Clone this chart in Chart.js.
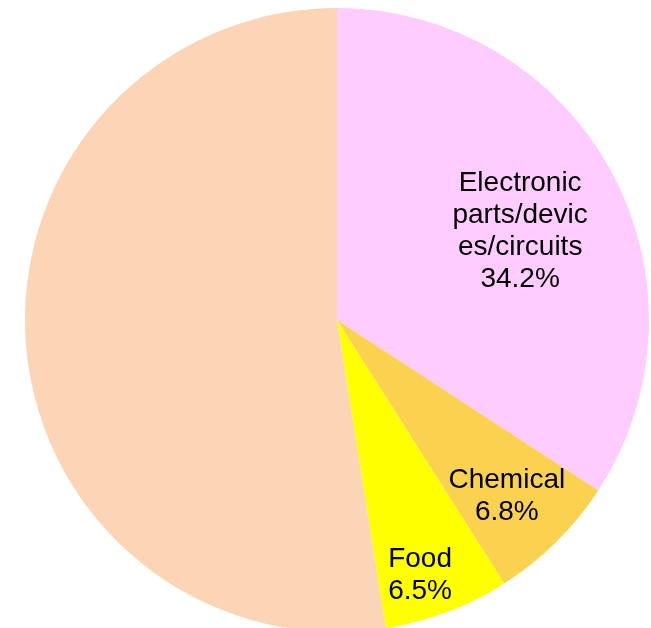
<!DOCTYPE html>
<html>
<head>
<meta charset="utf-8">
<style>
  html, body { margin: 0; padding: 0; background: #fff; overflow: hidden; }
  #wrap { position: absolute; left: 25px; top: 8px; width: 624px; height: 624px; }
</style>
</head>
<body>
<div id="wrap"><canvas id="pie"></canvas></div>
<script src="https://cdn.jsdelivr.net/npm/chart.js@4/dist/chart.umd.min.js"></script>
<script>
// shares, clockwise from 12 o'clock
var labels = ['Electronic parts/devices/circuits', 'Chemical', 'Food', 'Other'];
var shares = [34.2, 6.8, 6.5, 52.5];
// text drawn inside each slice (null = no label)
var sliceText = [
  ['Electronic', 'parts/devic', 'es/circuits', '34.2%'],
  ['Chemical', '6.8%'],
  ['Food', '6.5%'],
  null
];
var colors = ['#FFCCFF', '#FAD250', '#FFFF00', '#FBD5B5'];

// label placement: fraction of radius and angle (deg, clockwise from top)
var labelPlace = [[0.652, 64.2], [0.785, 136.1], [0.862, 162], null];

var sliceLabels = {
  id: 'sliceLabels',
  afterDatasetsDraw: function(chart) {
    var ctx = chart.ctx;
    var arcs = chart.getDatasetMeta(0).data;
    ctx.save();
    ctx.font = '28px "Liberation Sans", Arial, sans-serif';
    ctx.fillStyle = '#000';
    ctx.textAlign = 'center';
    ctx.textBaseline = 'middle';
    arcs.forEach(function(arc, i) {
      if (!sliceText[i]) return;
      var p = labelPlace[i];
      var a = (p[1] - 90) * Math.PI / 180;
      var r = arc.outerRadius * p[0];
      var cx = arc.x + Math.cos(a) * r;
      var cy = arc.y + Math.sin(a) * r;
      var lh = 32;
      var lines = sliceText[i];
      var y0 = cy - (lines.length - 1) * lh / 2;
      lines.forEach(function(t, k) { ctx.fillText(t, cx, y0 + k * lh); });
    });
    ctx.restore();
  }
};

new Chart(document.getElementById('pie'), {
  type: 'pie',
  data: {
    labels: labels,
    datasets: [{
      data: shares,
      backgroundColor: colors,
      borderWidth: 0
    }]
  },
  options: {
    responsive: true,
    maintainAspectRatio: false,
    animation: false,
    layout: { padding: 0 },
    plugins: {
      legend: { display: false },
      tooltip: { enabled: false }
    }
  },
  plugins: [sliceLabels]
});
</script>
</body>
</html>
